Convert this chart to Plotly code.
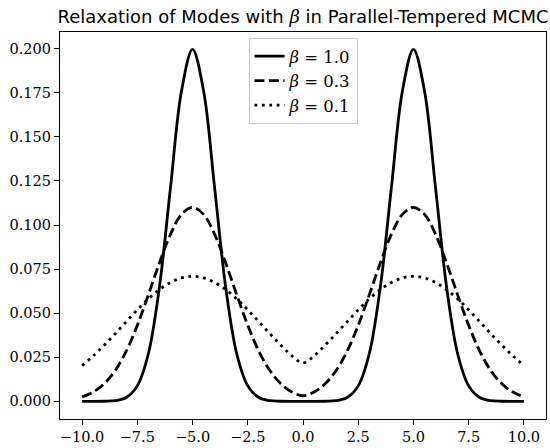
import plotly.graph_objects as go

x = [-10.0, -9.5, -9.0, -8.5, -8.0, -7.5, -7.0, -6.5, -6.0, -5.5, -5.0,
     -4.5, -4.0, -3.5, -3.0, -2.5, -2.0, -1.5, -1.0, -0.5, 0.0,
     0.5, 1.0, 1.5, 2.0, 2.5, 3.0, 3.5, 4.0, 4.5, 5.0,
     5.5, 6.0, 6.5, 7.0, 7.5, 8.0, 8.5, 9.0, 9.5, 10.0]

beta_10 = [0.0000, 0.0000, 0.0001, 0.0004, 0.0022, 0.0088, 0.0270, 0.0648, 0.1210, 0.1760, 0.1995,
           0.1760, 0.1210, 0.0648, 0.0270, 0.0088, 0.0022, 0.0004, 0.0001, 0.0000, 0.0000,
           0.0000, 0.0001, 0.0004, 0.0022, 0.0088, 0.0270, 0.0648, 0.1210, 0.1760, 0.1995,
           0.1760, 0.1210, 0.0648, 0.0270, 0.0088, 0.0022, 0.0004, 0.0001, 0.0000, 0.0000]

beta_03 = [0.0026, 0.0053, 0.0100, 0.0175, 0.0285, 0.0431, 0.0604, 0.0785, 0.0947, 0.1060, 0.1100,
           0.1060, 0.0947, 0.0785, 0.0604, 0.0431, 0.0285, 0.0175, 0.0100, 0.0053, 0.0032,
           0.0053, 0.0100, 0.0175, 0.0285, 0.0431, 0.0604, 0.0785, 0.0947, 0.1060, 0.1100,
           0.1060, 0.0947, 0.0785, 0.0604, 0.0431, 0.0285, 0.0175, 0.0100, 0.0053, 0.0026]

beta_01 = [0.0203, 0.0258, 0.0319, 0.0384, 0.0452, 0.0519, 0.0581, 0.0634, 0.0674, 0.0700, 0.0709,
           0.0700, 0.0674, 0.0634, 0.0581, 0.0519, 0.0452, 0.0384, 0.0319, 0.0258, 0.0218,
           0.0258, 0.0319, 0.0384, 0.0452, 0.0519, 0.0581, 0.0634, 0.0674, 0.0700, 0.0709,
           0.0700, 0.0674, 0.0634, 0.0581, 0.0519, 0.0452, 0.0384, 0.0319, 0.0258, 0.0203]

x_ticks = [-10.0, -7.5, -5.0, -2.5, 0.0, 2.5, 5.0, 7.5, 10.0]
x_labels = ["\u221210.0", "\u22127.5", "\u22125.0", "\u22122.5", "0.0", "2.5", "5.0", "7.5", "10.0"]
y_ticks = [0.000, 0.025, 0.050, 0.075, 0.100, 0.125, 0.150, 0.175, 0.200]
y_labels = ["0.000", "0.025", "0.050", "0.075", "0.100", "0.125", "0.150", "0.175", "0.200"]

SERIF = "DejaVu Serif"
SANS = "DejaVu Sans"
BETA = '<span style="font-family:DejaVu Serif"><i>β</i></span>'

fig = go.Figure()
series = [
    (beta_10, "solid", BETA + " = 1.0", "g1"),
    (beta_03, "10px,4.4px", BETA + " = 0.3", "g2"),
    (beta_01, "2.8px,4.6px", BETA + " = 0.1", "g3"),
]
for ys, dash, name, grp in series:
    fig.add_trace(go.Scatter(
        x=x, y=ys, mode="lines", name=name, legendgroup=grp,
        line=dict(color="black", width=2.8, dash=dash, shape="spline", smoothing=1.0),
    ))

axis_common = dict(
    showgrid=False, zeroline=False, showline=True, linecolor="black", linewidth=1.1,
    mirror=True, ticks="outside", ticklen=5, tickwidth=1.1, tickcolor="black",
    tickfont=dict(family=SERIF, size=14.5, color="black"),
)

fig.update_layout(
    width=550, height=448,
    margin=dict(l=60, r=4, t=32, b=29),
    paper_bgcolor="white", plot_bgcolor="white",
    title=dict(
        text="Relaxation of Modes with " + BETA + " in Parallel-Tempered MCMC",
        x=0.551, xanchor="center", y=0.962, yanchor="middle",
        font=dict(family=SANS, size=18, color="black"),
    ),
    xaxis=dict(range=[-11, 11], tickvals=x_ticks, ticktext=x_labels, **axis_common),
    yaxis=dict(range=[-0.00997, 0.2094], tickvals=y_ticks, ticktext=y_labels, **axis_common),
    legend=dict(
        x=0.5, xanchor="center", y=0.9845, yanchor="top",
        bgcolor="rgba(255,255,255,0.8)", bordercolor="#cccccc", borderwidth=1,
        font=dict(family=SERIF, size=16.5, color="black"),
        tracegroupgap=0, itemwidth=30,
    ),
    showlegend=True,
)

fig.write_html("out.html", config={"displayModeBar": False},
               post_script="document.body.style.margin='0';")
